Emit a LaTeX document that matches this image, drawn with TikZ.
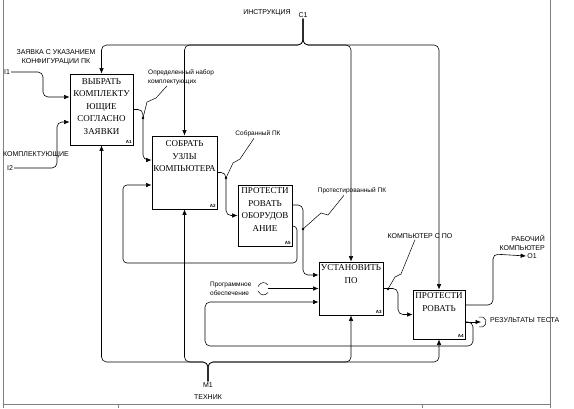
\documentclass[tikz,border=0pt]{standalone}
\usepackage{fontspec}
\setmainfont{Liberation Serif}
\newfontfamily\lblfont{Liberation Sans}
\usetikzlibrary{arrows.meta}
\tikzstyle{func} = [rectangle, draw, line width=0.8pt, inner sep=0pt]
\tikzstyle{title} = [font=\fontsize{9}{12.5}\selectfont, align=center, inner sep=3pt]
\tikzstyle{num} = [font=\lblfont\bfseries\fontsize{4.5}{5}\selectfont, inner sep=1.5pt]
\tikzstyle{line} = [draw, line width=0.6pt, rounded corners=5pt,
    -{Latex[length=5.5pt,width=4.5pt]}]
\tikzstyle{tag} = [font=\lblfont\fontsize{7}{9.5}\selectfont, inner sep=1pt, align=center]
\tikzstyle{note} = [font=\lblfont\fontsize{6.5}{9}\selectfont, inner sep=1pt, align=left]
\tikzstyle{squig} = [draw, line width=0.5pt]
\tikzstyle{frame} = [draw, gray, line width=0.8pt]

\begin{document}
\begin{tikzpicture}[x=1pt, y=-1pt]
    \useasboundingbox (0,0) rectangle (574,408);
    % Frame
    \draw [frame] (3,0) -- (3,408);
    \draw [frame] (550,0) -- (550,408);
    \draw [frame] (3,404) -- (550,404);
    \draw [frame] (118,404) -- (118,408);
    \draw [frame] (422,404) -- (422,408);
    % Place nodes
    \node [func, minimum width=63, minimum height=71,
        label={[title, inner sep=4.5pt, anchor=north]north:ВЫБРАТЬ\\КОМПЛЕКТУ\\ЮЩИЕ\\СОГЛАСНО\\ЗАЯВКИ},
        label={[num, anchor=south east]south east:A1}] (choose) at (101.5,109.5) {};
    \node [func, minimum width=65, minimum height=73,
        label={[title, inner sep=5pt, anchor=north]north:СОБРАТЬ\\УЗЛЫ\\КОМПЬЮТЕРА},
        label={[num, anchor=south east]south east:A2}] (build) at (184.5,172.5) {};
    \node [func, minimum width=54, minimum height=61,
        label={[title, anchor=north]north:ПРОТЕСТИ\\РОВАТЬ\\ОБОРУДОВ\\АНИЕ},
        label={[num, anchor=south east]south east:A5}] (checkhw) at (265,215.5) {};
    \node [func, minimum width=64, minimum height=53,
        label={[title, anchor=north]north:УСТАНОВИТЬ\\ПО},
        label={[num, anchor=south east]south east:A3}] (install) at (351,288.5) {};
    \node [func, minimum width=52, minimum height=49,
        label={[title, anchor=north]north:ПРОТЕСТИ\\РОВАТЬ},
        label={[num, anchor=south east]south east:A4}] (check) at (439,314.5) {};

    \node [tag] (instr) at (267,13) {ИНСТРУКЦИЯ};
    \node [tag] (C1) at (303,15) {C1};
    \node [tag] (M1) at (208,385) {M1};
    \node [tag] (tech) at (208,397) {ТЕХНИК};
    \node [tag] (order) at (56,57) {ЗАЯВКА С УКАЗАНИЕМ\\КОНФИГУРАЦИИ ПК};
    \node [tag] (I1) at (7,72) {I1};
    \node [tag] (parts) at (36,155) {КОМПЛЕКТУЮЩИЕ};
    \node [tag] (I2) at (10,168) {I2};
    \node [note, anchor=west] (set) at (147,77) {Определенный набор\\ комплектующих};
    \node [note] (built) at (258,134) {Собранный ПК};
    \node [note] (tested) at (352,191) {Протестированный ПК};
    \node [tag] (withsw) at (420,236) {КОМПЬЮТЕР С ПО};
    \node [note, anchor=west] (soft) at (209,289) {Программное\\обеспечение};
    \node [tag, align=right, anchor=east] (work) at (546,243) {РАБОЧИЙ\\КОМПЬЮТЕР};
    \node [tag] (O1) at (532,256) {O1};
    \node [tag, anchor=west] (result) at (489,320) {РЕЗУЛЬТАТЫ ТЕСТА};

    \coordinate (cbus) at (0,45);
    \coordinate (mbus) at (0,362);
    \coordinate (d1) at (143,118);
    \coordinate (d2) at (226,178);
    \coordinate (d3) at (303,229);
    \coordinate (d4) at (388,289);
    \coordinate (sw) at (268,288.5);
    \coordinate (res) at (481,322);

    % Draw edges
    \draw [line] (C1.south) |- (choose.north |- cbus) -- (choose.north);
    \draw [line] (C1.south) |- (build.north |- cbus) -- (build.north);
    \draw [line] (C1.south) |- (install.north |- cbus) -- (install.north);
    \draw [line] (C1.south) |- (check.north |- cbus) -- (check.north);
    \draw [line] (M1.north) |- (choose.south |- mbus) -- (choose.south);
    \draw [line] (M1.north) |- (build.south |- mbus) -- (build.south);
    \draw [line] (M1.north) |- (install.south |- mbus) -- (install.south);
    \draw [line] (M1.north) |- (check.south |- mbus) -- (check.south);

    \draw [line] (I1.east) -| (43,97) -- ([yshift=12.5]choose.west);
    \draw [line] (I2.east) -| (57,122) -- ([yshift=-12.5]choose.west);
    \draw [line] (choose.east) -| (143,160) -- ([yshift=12.5]build.west);
    \draw [line] (build.east) -| (226,215.5) -- (checkhw.west);
    \draw [line] ([yshift=10.5]checkhw.east) -| (303,275) -- ([yshift=13.5]install.west);
    \draw [line, rounded corners=4pt] ([yshift=-10.5]checkhw.east) -| (297,263) -| (123,185)
        -- ([yshift=-12.5]build.west);
    \draw [line] (install.east) -| (398,314.5) -- (check.west);
    \draw [line] (sw) -- (install.west);
    \draw [line] ([yshift=-7.5]check.east) -| (473,346) -| (205,302)
        -- ([yshift=-13.5]install.west);
    \draw [line] ([yshift=-7.5]check.east) -- (res);
    \draw [line] ([yshift=9.5]check.east) -| (493,254) -- (O1.west);

    % Squiggles and tunnels
    \fill (d1) circle (1.3);
    \fill (d2) circle (1.3);
    \fill (d3) circle (1.3);
    \fill (d4) circle (1.3);
    \draw [squig] (d1) -- (147,102) -- (156,98) -- ([xshift=-14]set.south);
    \draw [squig] (d2) -- (233,163) -- (240,159) -- ([xshift=-4]built.south);
    \draw [squig] (d3) -- (321,213) -- (328,215) -- ([xshift=-8]tested.south);
    \draw [squig] (d4) -- (395,277) -- (401,274) -- ([xshift=-5]withsw.south);
    \draw [squig] (258,286.5) .. controls (261,281.5) and (265,281.5) .. (268,285);
    \draw [squig] (258,291) .. controls (261,296) and (265,296) .. (268,292.5);
    \draw [squig] (res) ++(-2,-5) arc (-110:110:5.3);
\end{tikzpicture}
\end{document}
